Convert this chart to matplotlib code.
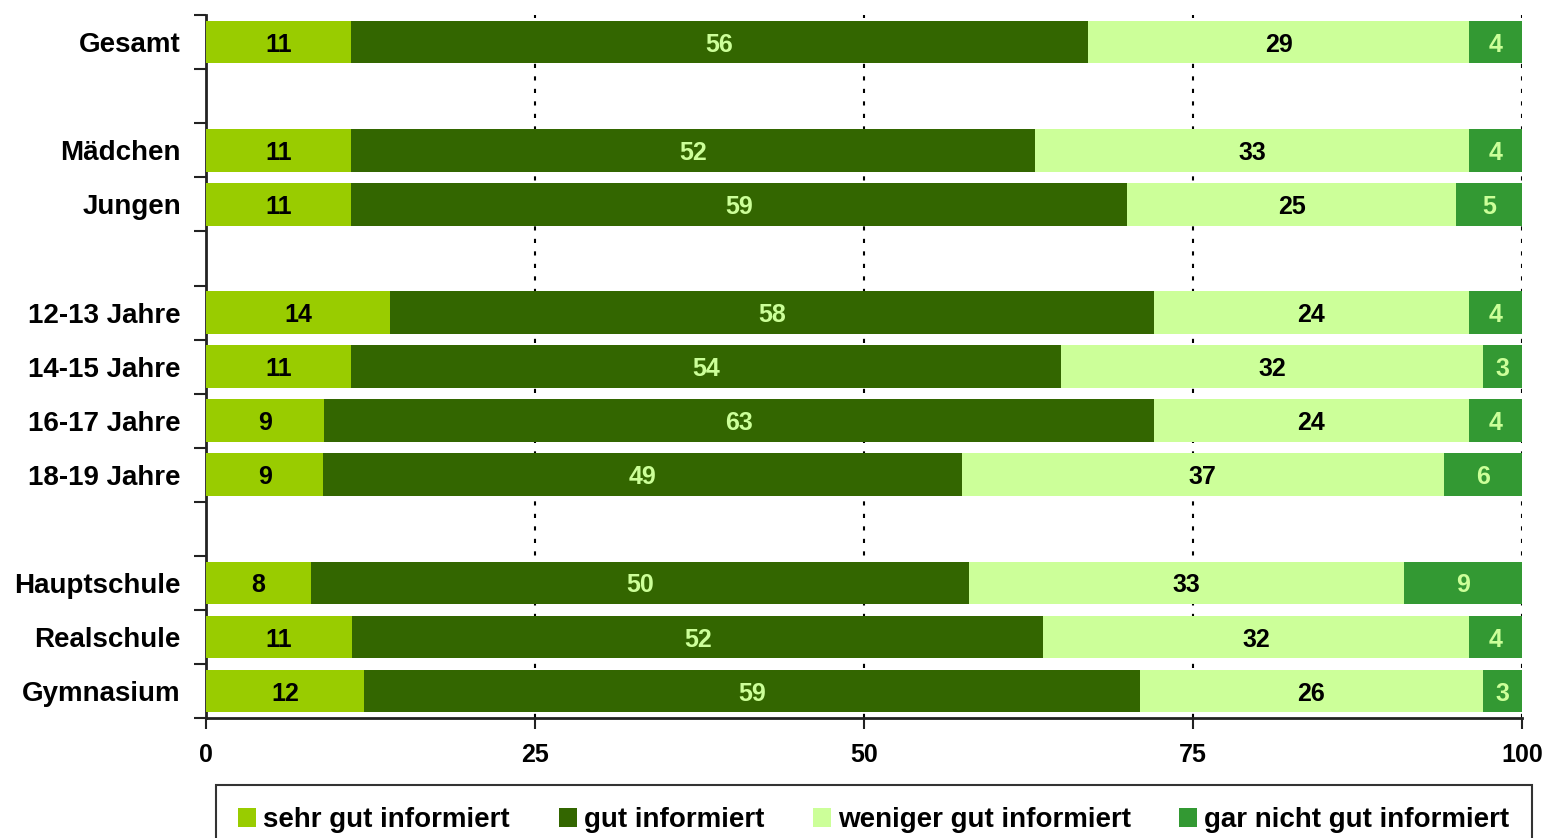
import numpy as np
import matplotlib.pyplot as plt
from matplotlib.ticker import FixedLocator

plt.rcParams['font.family'] = ['Liberation Sans', 'DejaVu Sans']
plt.rcParams['font.weight'] = 'bold'

# Daten (Prozent)
kategorien = ['Gesamt', '', 'Mädchen', 'Jungen', '', '12-13 Jahre', '14-15 Jahre',
              '16-17 Jahre', '18-19 Jahre', '', 'Hauptschule', 'Realschule', 'Gymnasium']
sehr_gut = [11, None, 11, 11, None, 14, 11, 9, 9, None, 8, 11, 12]
gut = [56, None, 52, 59, None, 58, 54, 63, 49, None, 50, 52, 59]
weniger_gut = [29, None, 33, 25, None, 24, 32, 24, 37, None, 33, 32, 26]
gar_nicht = [4, None, 4, 5, None, 4, 3, 4, 6, None, 9, 4, 3]

serien = [
    ('sehr gut informiert', sehr_gut, '#99CC00', 'black'),
    ('gut informiert', gut, '#336600', '#CCFF99'),
    ('weniger gut informiert', weniger_gut, '#CCFF99', 'black'),
    ('gar nicht gut informiert', gar_nicht, '#339933', '#CCFF99'),
]

fig = plt.figure(figsize=(15.44, 8.38), dpi=100)
ax = fig.add_axes([0.1334, 0.143, 0.8524, 0.839])

pos = np.arange(len(kategorien))
zeilen = [i for i, k in enumerate(kategorien) if k]
summen = {i: sum(s[1][i] for s in serien) for i in zeilen}

# gestapelte Balken, jede Zeile auf 100 normiert
links = {i: 0.0 for i in zeilen}
for name, werte, farbe, textfarbe in serien:
    ys = [pos[i] for i in zeilen]
    breiten = [werte[i] / summen[i] * 100 for i in zeilen]
    starts = [links[i] for i in zeilen]
    ax.barh(ys, breiten, left=starts, height=0.79, color=farbe, label=name, zorder=3)
    for i, y, b, s in zip(zeilen, ys, breiten, starts):
        ax.text(s + b / 2, y, str(werte[i]), ha='center', va='center_baseline',
                color=textfarbe, fontsize=18, fontweight='bold', zorder=4)
        links[i] = s + b

ax.set_xlim(0, 100)
ax.set_ylim(12.5, -0.5)
ax.set_xticks([0, 25, 50, 75, 100])
ax.set_yticks(zeilen)
ax.set_yticklabels([kategorien[i] for i in zeilen])
ax.yaxis.set_minor_locator(FixedLocator(np.arange(-0.5, 13, 1)))
ax.tick_params(axis='y', which='major', length=0, pad=18, labelsize=20)
ax.tick_params(axis='y', which='minor', length=9, width=1.5, color='#222222')
ax.tick_params(axis='x', length=8, width=1.5, color='#222222', pad=10, labelsize=18)
for lab in ax.get_xticklabels() + ax.get_yticklabels():
    lab.set_fontweight('bold')

for x in [25, 50, 75, 100]:
    ax.axvline(x, color='black', linestyle=(0, (2, 4)), linewidth=1.5, zorder=2)

for s in ['top', 'right']:
    ax.spines[s].set_visible(False)
for s in ['left', 'bottom']:
    ax.spines[s].set_linewidth(2)
    ax.spines[s].set_color('#222222')

leg = fig.legend(loc='upper center', bbox_to_anchor=(0.566, 0.063), ncol=4,
                 frameon=True, fancybox=False, edgecolor='black',
                 prop={'weight': 'bold', 'size': 20},
                 handlelength=0.65, handleheight=0.65, handletextpad=0.25,
                 columnspacing=1.75, borderpad=0.8, borderaxespad=0)
leg.get_frame().set_linewidth(1.5)

fig.savefig('out.png', dpi=100)
